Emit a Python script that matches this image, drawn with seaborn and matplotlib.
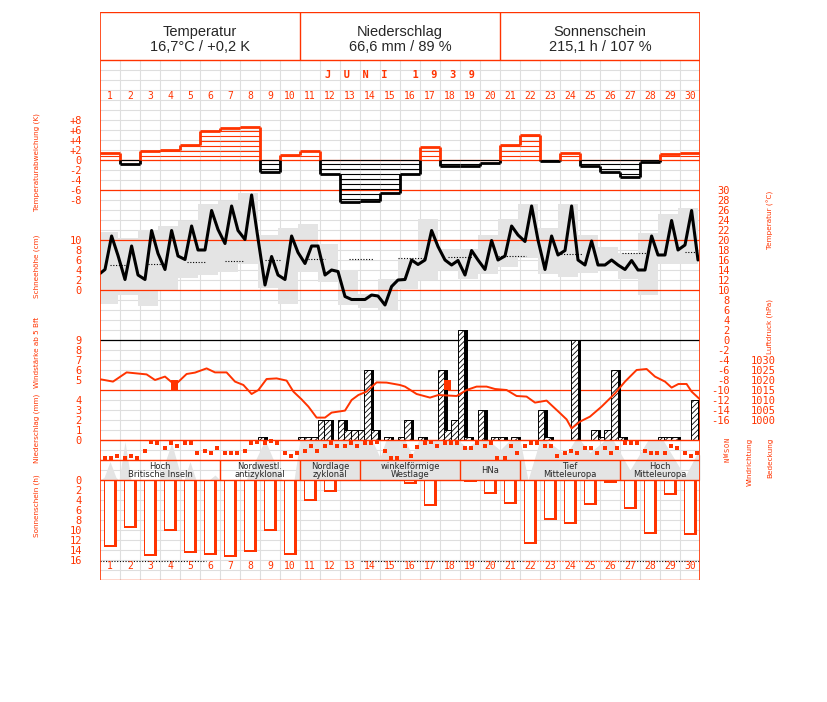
# Monatsübersicht Juni 1939 – Klimadiagramm
import numpy as np
import matplotlib
matplotlib.use("Agg")
import matplotlib.pyplot as plt
from matplotlib import font_manager
import seaborn as sns

RED = "#ff3300"
GRID = "#dedede"
GREY = "#e4e4e4"

days = np.arange(1, 31)

# Tagesmittel: Abweichung vom Normalwert (K)
temp_dev = [1.5, -0.8, 1.9, 2.1, 3.1, 5.9, 6.5, 6.7, -2.3, 1.0,
            1.8, -2.8, -8.3, -8.1, -6.5, -2.7, 2.7, -1.2, -1.2, -0.5,
            3.1, 5.1, -0.1, 1.5, -1.2, -2.3, -3.3, -0.4, 1.3, 1.5]

# Termine 7, 14, 21 Uhr (°C)
temp_start = 13.3
temp_07 = [14.1, 12.1, 12.1, 14.1, 16.1, 18.0, 19.3, 20.1, 11.0, 12.1,
           15.3, 13.0, 8.7, 8.1, 7.0, 12.1, 16.0, 16.0, 13.0, 14.1,
           16.8, 19.7, 14.1, 17.9, 15.0, 15.0, 14.1, 14.0, 17.0, 19.0]
temp_14 = [20.8, 18.8, 21.9, 21.9, 22.8, 25.9, 26.8, 29.0, 16.7, 20.8,
           18.8, 14.0, 8.1, 9.0, 10.7, 16.0, 21.9, 15.0, 17.9, 19.9,
           22.8, 26.8, 20.8, 26.8, 19.8, 16.0, 15.9, 20.8, 23.9, 25.9]
temp_21 = [16.9, 13.0, 17.3, 16.8, 18.0, 22.1, 21.9, 20.3, 13.0, 17.5,
           18.8, 13.7, 8.1, 8.8, 12.0, 15.1, 18.7, 15.9, 16.0, 16.0,
           21.0, 20.0, 17.0, 16.0, 15.0, 15.0, 14.0, 17.0, 18.0, 16.0]

# Tagesextreme (°C)
temp_max = [21.7, 20.5, 22.0, 22.9, 23.9, 27.2, 27.9, 29.5, 21.0, 22.5,
            23.3, 19.2, 14.0, 9.3, 12.3, 16.3, 24.3, 18.3, 18.3, 21.0,
            24.2, 27.2, 22.5, 27.2, 21.0, 18.6, 17.4, 21.4, 25.3, 26.5]
temp_min = [7.3, 9.0, 6.9, 9.8, 12.5, 13.0, 13.7, 15.3, 10.5, 7.2,
            13.7, 11.7, 7.1, 6.5, 6.0, 10.3, 12.0, 14.0, 12.2, 13.2,
            14.7, 16.5, 13.2, 12.7, 13.5, 14.0, 12.3, 9.1, 15.3, 15.3]

# Normalwert (punktiert)
norm_from = [0.5, 2.42, 4.33, 6.25, 8.25, 10.4, 12.45, 14.9, 17.4, 19.9, 22.9, 26.1, 29.25]
norm_to = [1.33, 3.08, 5.3, 7.2, 9.0, 11.25, 13.7, 16.2, 18.6, 21.3, 24.1, 27.4, 29.9]
norm_val = [15.1, 15.3, 15.6, 15.8, 16.0, 16.2, 16.3, 16.5, 16.7, 16.9, 17.2, 17.4, 17.6]

# Niederschlag je Termin (Tag, Termin 0/1/2, mm)
precip_day = [8, 10, 11, 11, 11, 12, 12, 13, 13, 13, 14, 14, 15, 15, 16, 16, 17, 18,
              18, 18, 19, 19, 20, 20, 21, 22, 23, 24, 25, 25, 26, 26, 26, 28, 29, 29, 30]
precip_slot = [2, 2, 0, 1, 2, 0, 2, 0, 1, 2, 0, 1, 0, 2, 0, 2, 2, 0,
               1, 2, 0, 2, 1, 2, 1, 2, 0, 1, 1, 2, 0, 1, 2, 2, 0, 1, 1]
precip_mm = [0.3, 0.3, 0.3, 0.3, 2.0, 2.0, 2.0, 1.0, 1.0, 1.0, 7.0, 1.0, 0.3, 0.3, 2.0, 0.3, 7.0, 1.0,
             2.0, 11.0, 0.3, 3.0, 0.3, 0.3, 0.3, 3.0, 0.3, 10.0, 1.0, 0.3, 1.0, 7.0, 0.3, 0.3, 0.3, 0.3, 4.0]

# Windstärke ab 5 Bft
wind_day = [4, 18]
wind_slot = [1, 0]
wind_bft = [5, 5]

# Luftdruck (hPa)
pres_t = [0.05, 0.65, 1.33, 2.33, 2.75, 3.25, 3.75, 4.33, 4.75, 5.33,
          5.75, 6.33, 6.75, 7.17, 7.58, 7.92, 8.33, 8.83, 9.33, 9.67,
          10.08, 10.42, 10.83, 11.25, 11.58, 12.25, 12.58, 12.92, 13.33, 13.83,
          14.33, 15.0, 15.25, 15.83, 16.5, 16.92, 17.83, 18.33, 18.83, 19.33,
          19.75, 20.33, 20.83, 21.33, 21.75, 22.33, 22.92, 23.33, 23.58, 24.0,
          24.5, 25.08, 25.75, 26.25, 26.83, 27.33, 27.75, 28.25, 28.58, 28.92,
          29.33, 29.58, 30.0]
pres_hpa = [1020.3, 1019.2, 1023.8, 1022.8, 1020.0, 1021.7, 1017.5, 1023.0, 1023.7, 1025.8,
            1023.8, 1023.8, 1019.2, 1017.5, 1013.0, 1015.0, 1020.5, 1020.8, 1019.7, 1014.2,
            1010.3, 1006.7, 1001.2, 1001.2, 1003.7, 1004.7, 1010.0, 1012.5, 1014.2, 1018.8,
            1018.7, 1017.5, 1016.7, 1013.0, 1011.2, 1012.5, 1012.0, 1015.0, 1016.7, 1016.7,
            1015.5, 1015.0, 1012.0, 1011.7, 1008.7, 1009.7, 1004.2, 1000.3, 995.8, 999.2,
            1001.7, 1006.7, 1013.3, 1019.2, 1025.0, 1025.5, 1021.7, 1019.2, 1016.2, 1018.0,
            1018.0, 1014.2, 1010.3]

# Windrichtung (Grad) zu den Terminen
wd_07 = [319, 319, 198, 139, 49, 193, 229, 193, 49, 229,
         193, 103, 103, 49, 193, 103, 49, 49, 139, 103,
         319, 103, 103, 229, 139, 139, 49, 193, 229, 229]
wd_14 = [319, 283, 31, 49, 49, 229, 229, 49, 18, 283,
         103, 49, 49, 49, 319, 283, 31, 49, 139, 49,
         103, 49, 103, 193, 139, 229, 49, 229, 103, 283]
wd_21 = [283, 319, 49, 103, 229, 139, 229, 31, 49, 229,
         193, 103, 103, 31, 319, 121, 103, 49, 49, 319,
         229, 49, 283, 229, 229, 139, 49, 229, 139, 229]

# Bedeckung (Achtel)
cloud_t = [0, 0.2, 0.5, 0.8, 0.95, 1.25, 1.55, 2.95, 3.58, 4.1, 4.2, 4.5, 4.8, 5.45, 5.75, 6.0,
           7.3, 8.25, 9.1, 9.7, 10.0, 13.6, 14.0, 14.3, 15.25, 15.6, 15.95, 17.9, 18.35, 18.9,
           19.4, 20.0, 20.5, 21.0, 21.4, 22.0, 22.3, 23.3, 23.75, 24.0, 24.5, 25.25, 25.65,
           26.5, 27.4, 28.15, 29.25, 29.85, 30.0]
cloud_okta = [0, 0.5, 3.7, 0.5, 0, 7.7, 0, 0, 7.4, 0, 0, 3.7, 0, 0, 1.0, 0,
              0, 8, 0, 0, 8, 8, 4.5, 8, 8, 5, 8, 8, 6.5, 8,
              8, 6, 8, 8, 0, 8, 8, 5, 8, 8, 5.5, 8, 8,
              2, 8, 8, 0.7, 5.3, 5]

# Sonnenscheindauer (h)
sun = [13.3, 9.5, 15.1, 10.2, 14.5, 14.9, 15.3, 14.3, 10.2, 14.9,
       4.2, 2.4, 0, 0, 0, 0.8, 5.2, 0, 0.3, 2.8,
       4.8, 12.7, 8.0, 8.8, 5.0, 0.5, 5.7, 10.7, 3.0, 11.0]
dots_from = [0, 13.05, 21.15, 26.0]
dots_to = [5.3, 21.15, 26.0, 30]
dots_col = ["black", "black", RED, "black"]

# Großwetterlagen
wt_start = [1, 7, 11, 14, 19, 22, 27]
wt_end = [6, 10, 13, 18, 21, 26, 30]
wt_label = ["Hoch\nBritische Inseln", "Nordwestl.\nantizyklonal", "Nordlage\nzyklonal",
            "winkelförmige\nWestlage", "HNa", "Tief\nMitteleuropa", "Hoch\nMitteleuropa"]

header_title = ["Temperatur", "Niederschlag", "Sonnenschein"]
header_value = ["16,7°C / +0,2 K", "66,6 mm / 89 %", "215,1 h / 107 %"]

# %%
sns.set_style("white")
plt.rcParams["font.family"] = ["DejaVu Sans"]
plt.rcParams["hatch.linewidth"] = 0.6

names = {f.name for f in font_manager.fontManager.ttflist}
NARROW = "Liberation Sans Narrow" if "Liberation Sans Narrow" in names else "DejaVu Sans"
SIDE = 6.5 if NARROW != "DejaVu Sans" else 5.2
HEAD = "Liberation Sans" if "Liberation Sans" in names else "DejaVu Sans"
MONO = "DejaVu Sans Mono"
NUM = 7.5

fig = plt.figure(figsize=(8.27, 7.02), dpi=100)
rect = [100 / 827, (702 - 580) / 702, 600 / 827, 568 / 702]
limits = []


def layer(ylim):
    a = fig.add_axes(rect, label=str(len(limits)))
    a.patch.set_visible(False)
    for s in a.spines.values():
        s.set_visible(False)
    a.set_xticks([])
    a.set_yticks([])
    limits.append((a, ylim))
    return a


def lim(zero_px, px_per_unit):
    # pixel row y = zero_px - px_per_unit * value
    return ((zero_px - 580) / px_per_unit, (zero_px - 12) / px_per_unit)


def px(x):
    return (x - 100) / 20


def left_ticks(a, vals, labels):
    a.set_yticks(vals)
    a.set_yticklabels(labels, family=MONO, fontsize=NUM, color=RED)
    a.tick_params(axis="y", left=True, right=False, length=0, pad=13)


def right_ticks(a, vals, labels, pad, **kw):
    a.yaxis.tick_right()
    a.set_yticks(vals)
    a.set_yticklabels(labels, family=MONO, fontsize=NUM, color=RED, **kw)
    a.tick_params(axis="y", right=True, left=False, length=0, pad=pad)


# grid
base = layer((580, 12))
base.vlines(np.arange(1, 30), 60, 580, color=GRID, lw=0.8)
base.hlines(np.arange(70, 580, 10), 0, 30, color=GRID, lw=0.8)

# cloud cover
ax_cl = layer(lim(480, 5))
ax_cl.fill_between(cloud_t, 0, cloud_okta, color=GREY, lw=0)

# temperature
ax_t = layer(lim(340, 5))
tmax = np.array(temp_max)
tmin = np.array(temp_min)
ax_t.bar(days - 1 - 0.115, tmax - tmin, bottom=tmin, width=1, align="edge", color=GREY, lw=0)
for v, c in [(30, RED), (20, RED), (10, RED), (0, "black"), (-10, RED)]:
    ax_t.axhline(v, color=c, lw=0.9)
ax_t.hlines(norm_val, norm_from, norm_to, colors="black", linestyles=(0, (1, 1.5)), lw=0.8)
obs_t = np.concatenate([[0.0], np.column_stack([days - 0.75, days - 0.42, days - 0.1]).ravel()])
obs_v = np.concatenate([[temp_start], np.column_stack([temp_07, temp_14, temp_21]).ravel()])
sns.lineplot(x=obs_t, y=obs_v, ax=ax_t, color="black", linewidth=2.2, sort=False, estimator=None)
right_ticks(ax_t, np.arange(-16, 31, 2), [str(v) for v in range(-16, 31, 2)], 21.6)
for lab in ax_t.get_yticklabels():
    lab.set_horizontalalignment("right")

# snow depth axis (no snow)
ax_sn = layer(lim(290, 5))
left_ticks(ax_sn, [0, 2, 4, 6, 8, 10], ["0", "2", "4", "6", "8", "10"])

# temperature deviation
ax_dev = layer(lim(160, 5))
dev = np.array(temp_dev)
col = np.where(dev >= 0, RED, "black")
ax_dev.axhline(0, color=RED, lw=0.9)
neg = dev < 0
ax_dev.hlines(np.zeros(neg.sum()), days[neg] - 1, days[neg], color="black", lw=0.8)
for k in range(1, 10):
    lvl = k - 0.15
    up = dev >= lvl
    dn = dev <= -lvl
    ax_dev.hlines(np.full(up.sum(), lvl), days[up] - 1, days[up], color=RED, lw=0.8)
    ax_dev.hlines(np.full(dn.sum(), -lvl), days[dn] - 1, days[dn], color="black", lw=0.8)
ax_dev.hlines(dev, days - 1, days, colors=col, lw=2.0)
for i in range(1, 30):
    a, b = dev[i - 1], dev[i]
    if a * b >= 0:
        ax_dev.vlines(i, a, b, color=col[i], lw=2.0)
    else:
        ax_dev.vlines(i, 0, a, color=col[i - 1], lw=2.0)
        ax_dev.vlines(i, 0, b, color=col[i], lw=2.0)
left_ticks(ax_dev, [8, 6, 4, 2, 0, -2, -4, -6, -8],
           ["+8", "+6", "+4", "+2", "0", "-2", "-4", "-6", "-8"])

# precipitation
ax_p = layer(lim(440, 10))
w = 1 / 3
p_x = np.array(precip_day) - 1 + (np.array(precip_slot) + 0.65) / 3
ax_p.bar(p_x + w / 2, precip_mm, width=w, align="edge", color="black", lw=0)
ax_p.bar(p_x, precip_mm, width=w, align="edge", facecolor="white", edgecolor="black",
         hatch="//////", lw=0.7)
left_ticks(ax_p, [0, 1, 2, 3, 4], ["0", "1", "2", "3", "4"])

# wind force
ax_w = layer(lim(430, 10))
w_x = np.array(wind_day) - 1 + (np.array(wind_slot) + 0.65) / 3
ax_w.bar(w_x, np.array(wind_bft) - 4, bottom=4, width=w, align="edge", color=RED, lw=0)
left_ticks(ax_w, [5, 6, 7, 8, 9], ["5", "6", "7", "8", "9"])

# pressure
ax_pr = layer(lim(2420, 2))
sns.lineplot(x=pres_t, y=pres_hpa, ax=ax_pr, color=RED, linewidth=1.4, sort=False, estimator=None)
right_ticks(ax_pr, np.arange(1000, 1031, 5), [str(v) for v in range(1000, 1031, 5)], 54.7)
for lab in ax_pr.get_yticklabels():
    lab.set_horizontalalignment("right")

# wind direction
ax_wd = layer((18 * (580 - 440), 18 * (12 - 440)))
wd_t = np.column_stack([days - 0.75, days - 0.45, days - 0.13]).ravel()
wd_v = np.column_stack([wd_07, wd_14, wd_21]).ravel()
sns.scatterplot(x=wd_t, y=wd_v, ax=ax_wd, marker="s", s=6, color=RED, linewidth=0)
right_ticks(ax_wd, [0, 90, 180, 270, 360], ["N", "O", "S", "W", "N"], 17.5, rotation=90)
for lab in ax_wd.get_yticklabels():
    lab.set_fontsize(5)

# sunshine
ax_sun = layer((20, -93.6))
sx = days - 1 + 0.2
ax_sun.bar(sx, sun, width=0.65, align="edge", color=RED, lw=0)
ax_sun.bar(sx + 0.05, np.clip(np.array(sun) - 0.4, 0, None), width=0.45, align="edge",
           color="white", lw=0)
ax_sun.hlines(np.full(len(dots_from), 16.2), dots_from, dots_to, colors=dots_col,
              linestyles=(0, (1, 1.5)), lw=0.8)
left_ticks(ax_sun, np.arange(0, 17, 2), [str(v) for v in range(0, 17, 2)])

# frame, header, labels
top = layer((580, 12))
top.hlines([12, 60, 440, 460, 480, 580], 0, 30, color=RED, lw=1)
top.vlines([0, 30], 12, 580, color=RED, lw=1.2)
top.vlines([10, 20], 12, 60, color=RED, lw=1)
top.vlines(np.array(wt_start[1:]) - 1, 460, 480, color=RED, lw=1)
for i in range(3):
    top.text(5 + 10 * i, 32, header_title[i], ha="center", va="center", fontsize=10.5, family=HEAD)
    top.text(5 + 10 * i, 47, header_value[i], ha="center", va="center", fontsize=10.5, family=HEAD)
top.text(15, 75, "J  U  N  I    1  9  3  9", ha="center", va="center", color=RED,
         family=MONO, fontsize=7.5, fontweight="bold")
for d in days:
    top.text(d - 0.5, 96, str(d), ha="center", va="center", color=RED, family=MONO, fontsize=7)
    top.text(d - 0.5, 566, str(d), ha="center", va="center", color=RED, family=MONO, fontsize=7)
for s, e, lab in zip(wt_start, wt_end, wt_label):
    top.text((s - 1 + e) / 2, 470.5, lab, ha="center", va="center", fontsize=6, linespacing=0.95)

side = [(37, 162, "Temperaturabweichung (K)"), (37, 266, "Schneehöhe (cm)"),
        (37, 352, "Windstärke ab 5 Bft"), (37, 428, "Niederschlag (mm)"),
        (37, 506, "Sonnenschein (h)"), (770, 220, "Temperatur (°C)"),
        (770, 327, "Luftdruck (hPa)"), (750, 462, "Windrichtung"), (770, 458, "Bedeckung")]
for x, y, lab in side:
    top.text(px(x), y, lab, rotation=90, ha="center", va="center", color=RED,
             family=[NARROW, "DejaVu Sans"], fontsize=SIDE, clip_on=False)

for a, yl in limits:
    a.set_xlim(0, 30)
    a.set_ylim(*yl)
    a.set_xlabel("")
    a.set_ylabel("")
    a.set_xticks([])

fig.savefig("out.png", dpi=100)
